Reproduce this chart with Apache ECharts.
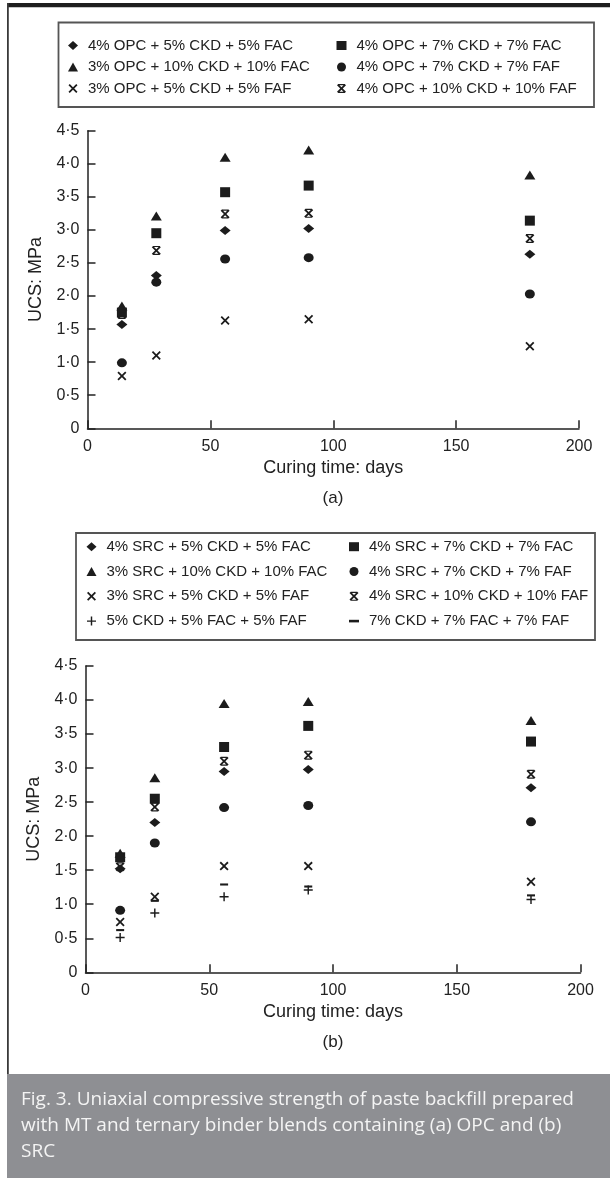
<!DOCTYPE html>
<html>
<head>
<meta charset="utf-8">
<script src="https://cdn.jsdelivr.net/npm/echarts@6/dist/echarts.min.js"></script>
<style>
  html, body { margin: 0; padding: 0; background: #fff; }
  #chart { width: 610px; height: 1178px; }
</style>
</head>
<body>
<div id="chart"></div>
<script>
// curing ages (days) and axis ticks
const days = [14, 28, 56, 90, 180]
const xTicks = [0, 50, 100, 150, 200]
const yTicks = [0, 0.5, 1, 1.5, 2, 2.5, 3, 3.5, 4, 4.5]

// (a) OPC blends - UCS, MPa
const opcNames = [
  '4% OPC + 5% CKD + 5% FAC',
  '4% OPC + 7% CKD + 7% FAC',
  '3% OPC + 10% CKD + 10% FAC',
  '4% OPC + 7% CKD + 7% FAF',
  '3% OPC + 5% CKD + 5% FAF',
  '4% OPC + 10% CKD + 10% FAF'
]
const opc_4_5_5_FAC = [1.57, 2.31, 2.99, 3.02, 2.63]
const opc_4_7_7_FAC = [1.75, 2.95, 3.57, 3.67, 3.14]
const opc_3_10_10_FAC = [1.85, 3.21, 4.10, 4.21, 3.83]
const opc_4_7_7_FAF = [0.99, 2.21, 2.56, 2.58, 2.03]
const opc_3_5_5_FAF = [0.79, 1.10, 1.63, 1.65, 1.24]
const opc_4_10_10_FAF = [1.72, 2.69, 3.24, 3.25, 2.87]

// (b) SRC blends - UCS, MPa
const srcNames = [
  '4% SRC + 5% CKD + 5% FAC',
  '4% SRC + 7% CKD + 7% FAC',
  '3% SRC + 10% CKD + 10% FAC',
  '4% SRC + 7% CKD + 7% FAF',
  '3% SRC + 5% CKD + 5% FAF',
  '4% SRC + 10% CKD + 10% FAF',
  '5% CKD + 5% FAC + 5% FAF',
  '7% CKD + 7% FAC + 7% FAF'
]
const src_4_5_5_FAC = [1.52, 2.20, 2.95, 2.98, 2.71]
const src_4_7_7_FAC = [1.69, 2.55, 3.31, 3.62, 3.39]
const src_3_10_10_FAC = [1.75, 2.86, 3.95, 3.98, 3.70]
const src_4_7_7_FAF = [0.91, 1.90, 2.42, 2.45, 2.21]
const src_3_5_5_FAF = [0.74, 1.11, 1.56, 1.56, 1.33]
const src_4_10_10_FAF = [1.55, 2.43, 3.10, 3.19, 2.91]
const ckd_5_5_5 = [0.51, 0.87, 1.11, 1.21, 1.07]
const ckd_7_7_7 = [0.62, 1.05, 1.29, 1.26, 1.13]

const FONT = 'Liberation Sans'
const INK = '#1c1c1c'

// marker shapes
const CROSS = 'path://M0,1.4 L1.4,0 L5,3.6 L8.6,0 L10,1.4 L6.4,5 L10,8.6 L8.6,10 L5,6.4 L1.4,10 L0,8.6 L3.6,5 Z'
const STAR = CROSS + ' M1.5,0 L8.5,0 L8.5,1.3 L1.5,1.3 Z M1.5,8.7 L8.5,8.7 L8.5,10 L1.5,10 Z'
const PLUS = 'path://M4.2,0 L5.8,0 L5.8,4.2 L10,4.2 L10,5.8 L5.8,5.8 L5.8,10 L4.2,10 L4.2,5.8 L0,5.8 L0,4.2 L4.2,4.2 Z'
const DASH = 'path://M0,0 L10,0 L10,2.6 L0,2.6 Z'

const markers = [
  { symbol: 'diamond', size: [11, 9] },
  { symbol: 'rect', size: [10, 10] },
  { symbol: 'triangle', size: [11, 9] },
  { symbol: 'circle', size: [10, 9] },
  { symbol: CROSS, size: 9 },
  { symbol: STAR, size: 9 },
  { symbol: PLUS, size: 9 },
  { symbol: DASH, size: 8 }
]

function pairs(vals) {
  return days.map((d, i) => [d, vals[i]])
}

function makeSeries(names, lists, grid) {
  return names.map((name, i) => ({
    type: 'scatter',
    name: name,
    xAxisIndex: grid,
    yAxisIndex: grid,
    symbol: markers[i].symbol,
    symbolSize: markers[i].size,
    symbolKeepAspect: true,
    itemStyle: { color: INK, opacity: 1 },
    emphasis: { disabled: true },
    data: pairs(lists[i])
  }))
}

function xAxis(grid) {
  return {
    type: 'value', gridIndex: grid,
    min: xTicks[0], max: xTicks[xTicks.length - 1], interval: xTicks[1] - xTicks[0],
    name: 'Curing time: days', nameLocation: 'middle', nameGap: 31,
    nameTextStyle: { fontFamily: FONT, fontSize: 18, color: '#222' },
    axisLine: { onZero: false, lineStyle: { color: '#222', width: 1.5 } },
    axisTick: { inside: true, length: 8, lineStyle: { color: '#222', width: 1.5 } },
    axisLabel: { margin: 10, fontFamily: FONT, fontSize: 16, color: '#222', showMinLabel: true, showMaxLabel: true },
    splitLine: { show: false }
  }
}

function yAxis(grid, gap) {
  return {
    type: 'value', gridIndex: grid,
    min: yTicks[0], max: yTicks[yTicks.length - 1], interval: yTicks[1] - yTicks[0],
    name: 'UCS: MPa', nameLocation: 'middle', nameGap: gap,
    nameTextStyle: { fontFamily: FONT, fontSize: 18, color: '#222' },
    axisLine: { show: true, onZero: false, lineStyle: { color: '#222', width: 1.5 } },
    axisTick: { show: true, inside: true, length: 8, lineStyle: { color: '#222', width: 1.5 } },
    axisLabel: {
      margin: 8, fontFamily: FONT, fontSize: 16, color: '#222', showMinLabel: true, showMaxLabel: true,
      formatter: v => v === 0 ? '0' : v.toFixed(1).replace('.', '\u00b7')
    },
    splitLine: { show: false }
  }
}

function legend(names, left, top, gap) {
  return {
    data: names, left: left, top: top, orient: 'vertical',
    itemGap: gap, itemWidth: 10, itemHeight: 9, padding: 0,
    selectedMode: false,
    textStyle: { fontFamily: FONT, fontSize: 15, color: '#222', padding: [0, 0, 0, 5] }
  }
}

const opcLists = [opc_4_5_5_FAC, opc_4_7_7_FAC, opc_3_10_10_FAC, opc_4_7_7_FAF, opc_3_5_5_FAF, opc_4_10_10_FAF]
const srcLists = [src_4_5_5_FAC, src_4_7_7_FAC, src_3_10_10_FAC, src_4_7_7_FAF, src_3_5_5_FAF, src_4_10_10_FAF, ckd_5_5_5, ckd_7_7_7]

const chart = echarts.init(document.getElementById('chart'), null, { renderer: 'canvas' })

chart.setOption({
  animation: false,
  backgroundColor: '#fff',
  grid: [
    { left: 87.5, top: 130.7, width: 491.5, height: 297.6, outerBoundsMode: 'none' },
    { left: 85.5, top: 666, width: 495, height: 306.3, outerBoundsMode: 'none' }
  ],
  xAxis: [xAxis(0), xAxis(1)],
  yAxis: [yAxis(0, 40), yAxis(1, 41)],
  legend: [
    legend([opcNames[0], opcNames[2], opcNames[4]], 68, 38, 6.5),
    legend([opcNames[1], opcNames[3], opcNames[5]], 336.5, 38, 6.5),
    legend([srcNames[0], srcNames[2], srcNames[4], srcNames[6]], 86.5, 539.2, 9.8),
    legend([srcNames[1], srcNames[3], srcNames[5], srcNames[7]], 349, 539.2, 9.8)
  ],
  series: makeSeries(opcNames, opcLists, 0).concat(makeSeries(srcNames, srcLists, 1)),
  graphic: [
    // page frame
    { type: 'rect', shape: { x: 7, y: 3, width: 603, height: 4.2 }, style: { fill: '#1e1e1e' } },
    { type: 'rect', shape: { x: 7, y: 3, width: 1.8, height: 1071 }, style: { fill: '#3a3a3a' } },
    // legend boxes
    { type: 'rect', shape: { x: 58.5, y: 22.5, width: 535.5, height: 84.5 }, style: { fill: 'none', stroke: '#555', lineWidth: 1.8 } },
    { type: 'rect', shape: { x: 76, y: 533, width: 519, height: 107 }, style: { fill: 'none', stroke: '#555', lineWidth: 1.8 } },
    // panel tags
    { type: 'text', style: { text: '(a)', x: 333, y: 498, align: 'center', verticalAlign: 'middle', font: '17px "Liberation Sans"', fill: '#222' } },
    { type: 'text', style: { text: '(b)', x: 333, y: 1042, align: 'center', verticalAlign: 'middle', font: '17px "Liberation Sans"', fill: '#222' } },
    // caption
    { type: 'rect', shape: { x: 7, y: 1074, width: 603, height: 104 }, style: { fill: '#8e8f93' } },
    {
      type: 'text',
      style: {
        text: 'Fig. 3. Uniaxial compressive strength of paste backfill prepared\nwith MT and ternary binder blends containing (a) OPC and (b)\nSRC',
        x: 21, y: 1087, font: '19px "Open Sans"', lineHeight: 26, fill: '#f4f4f4'
      }
    }
  ]
})

window.addEventListener('resize', () => chart && chart.resize())
</script>
</body>
</html>
